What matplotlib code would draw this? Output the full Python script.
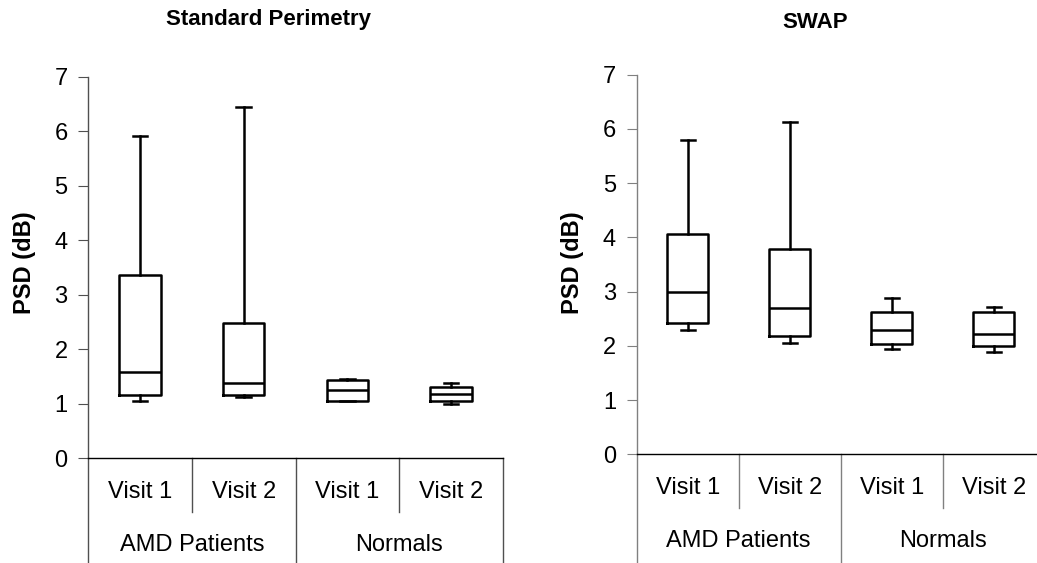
import matplotlib
matplotlib.use("Agg")
import matplotlib.pyplot as plt

plt.rcParams['font.family'] = ['Liberation Sans', 'DejaVu Sans']

visits = ["Visit 1", "Visit 2", "Visit 1", "Visit 2"]
groups = ["AMD Patients", "Normals"]
yticks = [0, 1, 2, 3, 4, 5, 6, 7]

# Standard Perimetry
sp_whislo = [1.06, 1.13, 1.06, 0.99]
sp_q1     = [1.17, 1.17, 1.06, 1.06]
sp_med    = [1.58, 1.39, 1.25, 1.18]
sp_q3     = [3.37, 2.49, 1.43, 1.31]
sp_whishi = [5.91, 6.45, 1.46, 1.39]

# SWAP
sw_whislo = [2.29, 2.06, 1.95, 1.88]
sw_q1     = [2.43, 2.18, 2.03, 1.99]
sw_med    = [2.99, 2.70, 2.29, 2.21]
sw_q3     = [4.06, 3.79, 2.62, 2.62]
sw_whishi = [5.79, 6.12, 2.88, 2.72]

fig = plt.figure(figsize=(10.37, 5.63), dpi=100)

def panel(rect, title, title_xy, ylab_x, lo, q1, med, q3, hi, spine_col):
    ax = fig.add_axes(rect)
    stats = [dict(whislo=a, q1=b, med=c, q3=d, whishi=e, fliers=[])
             for a, b, c, d, e in zip(lo, q1, med, q3, hi)]
    pos = [0.5, 1.5, 2.5, 3.5]
    lp = dict(color='black', linewidth=1.8)
    ax.bxp(stats, positions=pos, widths=0.4, capwidths=0.14, showfliers=False,
           boxprops=lp, whiskerprops=lp, capprops=lp,
           medianprops=dict(color='black', linewidth=1.8))
    ax.set_xlim(0, 4)
    ax.set_ylim(0, 7)
    ax.set_yticks(yticks)
    ax.set_yticklabels([str(t) for t in yticks], fontsize=17)
    ax.tick_params(axis='y', direction='out', length=7, width=0.8, pad=8,
                   color=spine_col)
    ax.set_xticks([])
    for s in ['top', 'right']:
        ax.spines[s].set_visible(False)
    ax.spines['left'].set_color(spine_col)
    ax.spines['left'].set_linewidth(1.0)
    ax.spines['bottom'].set_color('black')
    ax.spines['bottom'].set_linewidth(1.0)
    # category separators
    for xs in [1, 3]:
        ax.plot([xs, xs], [0, -0.142], transform=ax.get_xaxis_transform(),
                color=spine_col, lw=1.0, clip_on=False)
    for xs in [0, 2, 4]:
        ax.plot([xs, xs], [0, -0.4], transform=ax.get_xaxis_transform(),
                color=spine_col, lw=1.0, clip_on=False)
    for i, v in enumerate(visits):
        ax.text(i + 0.5, -0.089, v, transform=ax.get_xaxis_transform(),
                ha='center', va='center', fontsize=17)
    for i, g in enumerate(groups):
        ax.text(2 * i + 1, -0.228, g, transform=ax.get_xaxis_transform(),
                ha='center', va='center', fontsize=17)
    fig.text(title_xy[0], title_xy[1], title, ha='center', va='center',
             fontsize=16, fontweight='bold')
    fig.text(ylab_x, 0.533, "PSD (dB)", ha='center', va='center',
             rotation=90, fontsize=17, fontweight='bold')
    return ax

panel([0.0852, 0.186, 0.3996, 0.6776], "Standard Perimetry",
      (268 / 1037, 1 - 19 / 563), 25 / 1037,
      sp_whislo, sp_q1, sp_med, sp_q3, sp_whishi, '#505050')
panel([0.614, 0.193, 0.3934, 0.6743], "SWAP",
      (815 / 1037, 1 - 23 / 563), 573 / 1037,
      sw_whislo, sw_q1, sw_med, sw_q3, sw_whishi, '#808080')

fig.savefig("out.png", dpi=100)
